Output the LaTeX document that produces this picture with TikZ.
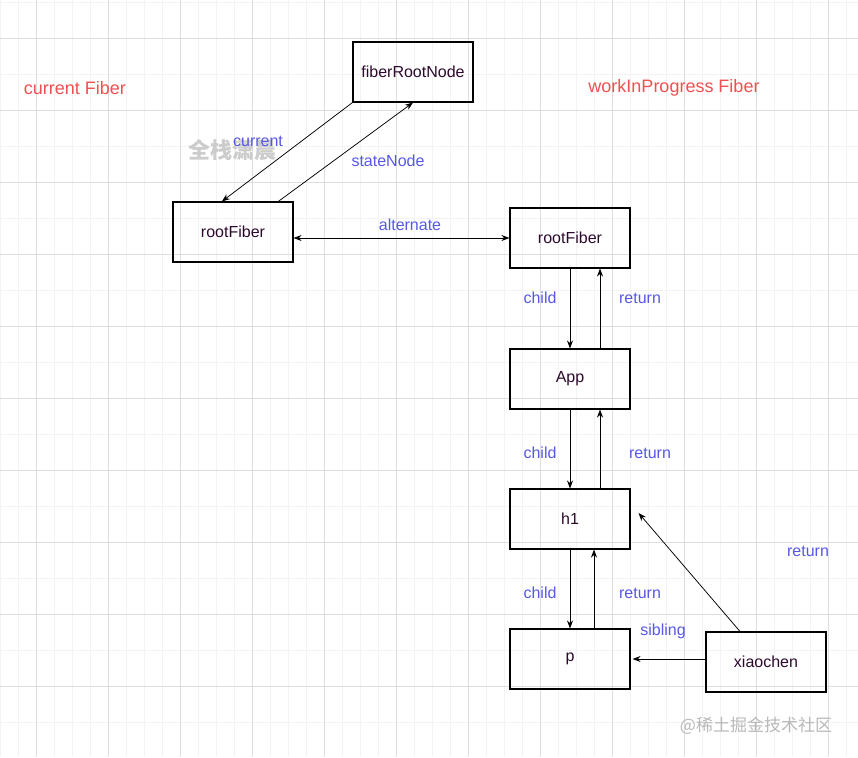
\documentclass[tikz,border=0pt]{standalone}
\usepackage{fontspec}
\setmainfont{Liberation Sans}
\newfontfamily\cjkfont{Noto Sans CJK SC}
\usetikzlibrary{arrows.meta,positioning}
\definecolor{labelblue}{RGB}{88,88,230}
\definecolor{titlered}{RGB}{240,80,80}
\definecolor{nodeink}{RGB}{45,10,45}
\definecolor{gridmajor}{RGB}{222,222,222}
\definecolor{gridminor}{RGB}{243,243,243}

\begin{document}
\begin{tikzpicture}[x=1pt,y=-1pt,
    fiberbox/.style={draw,line width=1.1pt,minimum width=120pt,minimum height=60pt,text=nodeink,font=\fontsize{16}{19}\selectfont},
    lbl/.style={text=labelblue,font=\fontsize{16}{19}\selectfont},
    title/.style={text=titlered,font=\fontsize{18}{21}\selectfont},
    watermark/.style={text=gray!40,font=\cjkfont\bfseries\fontsize{22}{24}\selectfont},
    link/.style={-{Stealth[length=8pt,width=6pt]},line width=0.75pt}]

    % background grid
    \useasboundingbox (0,0) rectangle (858,757);
    \fill[white] (0,0) rectangle (858,757);
    \foreach \x in {0,18,...,858} \draw[gridminor,line width=0.8pt] (\x,0) -- (\x,757);
    \foreach \y in {2,38,...,757} \draw[gridminor,line width=0.8pt] (0,\y) -- (858,\y);
    \foreach \x in {36,108,...,858} \draw[gridmajor,line width=0.8pt] (\x,0) -- (\x,757);
    \foreach \y in {38,110,...,757} \draw[gridmajor,line width=0.8pt] (0,\y) -- (858,\y);

    % titles
    \node[title] (curtitle) at (75,88) {current Fiber};
    \node[title] (wiptitle) at (674,88) {workInProgress Fiber};

    % watermarks
    \node[watermark] (wmark) at (232,150) {全栈潇晨};
    \node[watermark,text=gray!55,font=\cjkfont\fontsize{17}{20}\selectfont] (site) at (756,726) {@稀土掘金技术社区};

    % fiber nodes
    \node[fiberbox] (fiberRoot) at (413,72) {fiberRootNode};
    \node[fiberbox] (rootL) at (233,232) {rootFiber};
    \node[fiberbox] (rootR) at (570,238) {rootFiber};
    \node[fiberbox] (app) at (570,379) {App};
    \node[fiberbox] (h1) at (570,519) {h1};
    \node[fiberbox] (p) at (570,659) {p};
    \node[fiberbox] (xiao) at (766,662) {xiaochen};

    % connectors
    \draw[link] (fiberRoot.south west) -- (rootL.110);
    \draw[link] (rootL.34) -- (fiberRoot.south);
    \draw[link,{Stealth[length=8pt,width=6pt]}-{Stealth[length=8pt,width=6pt]}] (rootR.west -| rootL.east) -- (rootR.west);
    \draw[link] (rootR.south) -- (app.north);
    \draw[link] ([xshift=30pt]app.north) -- ([xshift=30pt]rootR.south);
    \draw[link] (app.south) -- (h1.north);
    \draw[link] ([xshift=30pt]h1.north) -- ([xshift=30pt]app.south);
    \draw[link] (h1.south) -- (p.north);
    \draw[link] ([xshift=24pt]p.north) -- ([xshift=24pt]h1.south);
    \draw[link] (xiao.west |- p.east) -- ([xshift=2pt]p.east);
    \draw[link] ([xshift=-26pt]xiao.north) -- ([xshift=8pt,yshift=6pt]h1.east);

    % labels
    \node[lbl] (lcurrent) at (258,141) {current};
    \node[lbl] (lstate) at (388,161) {stateNode};
    \node[lbl] (lalt) at (410,225) {alternate};
    \node[lbl] (lchild1) at (540,298) {child};
    \node[lbl] (lret1) at (640,298) {return};
    \node[lbl] (lchild2) at (540,453) {child};
    \node[lbl] (lret2) at (650,453) {return};
    \node[lbl] (lchild3) at (540,593) {child};
    \node[lbl] (lret3) at (640,593) {return};
    \node[lbl] (lsib) at (663,631) {sibling};
    \node[lbl] (lret4) at (808,551) {return};
\end{tikzpicture}
\end{document}
